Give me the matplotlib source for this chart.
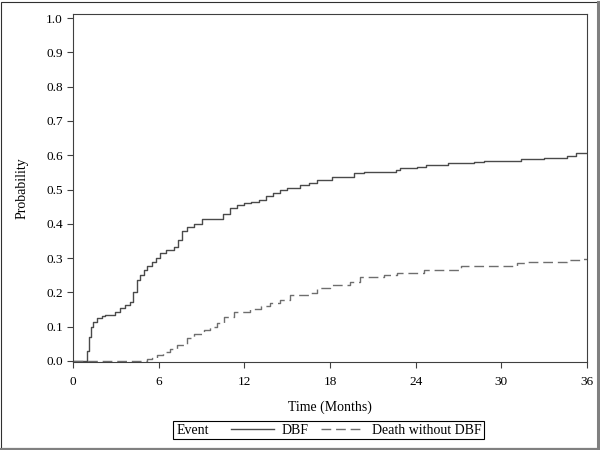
import matplotlib
matplotlib.use("Agg")
import matplotlib.pyplot as plt
from matplotlib.lines import Line2D
from matplotlib.offsetbox import HPacker
from matplotlib.patches import Rectangle

plt.rcParams["font.family"] = ["Liberation Serif", "DejaVu Serif"]

# cumulative incidence (step functions)
dbf_t = [0, 0.98, 1.1, 1.25, 1.42, 1.7, 2.0, 2.25, 2.95, 3.3, 3.65, 4.0, 4.2,
         4.47, 4.7, 4.94, 5.2, 5.52, 5.8, 6.1, 6.5, 7.04, 7.37, 7.6, 8.0, 8.5,
         9.0, 10.5, 11.0, 11.5, 12.0, 12.5, 13.0, 13.5, 14.0, 14.5, 15.0, 15.9,
         16.5, 17.1, 18.15, 19.67, 20.4, 22.6, 22.9, 24.1, 24.7, 26.3, 28.1,
         28.8, 31.4, 33.0, 34.6, 35.2, 36.0]
dbf_p = [0, 0.03, 0.07, 0.10, 0.115, 0.125, 0.132, 0.135, 0.144, 0.155, 0.163,
         0.173, 0.20, 0.236, 0.25, 0.265, 0.278, 0.29, 0.30, 0.314, 0.325,
         0.333, 0.353, 0.38, 0.39, 0.40, 0.415, 0.43, 0.445, 0.455, 0.46,
         0.465, 0.47, 0.48, 0.49, 0.50, 0.505, 0.513, 0.518, 0.528, 0.537,
         0.547, 0.552, 0.557, 0.562, 0.566, 0.571, 0.576, 0.581, 0.584, 0.588,
         0.593, 0.599, 0.606, 0.606]

death_t = [0, 5.2, 5.5, 5.87, 6.3, 6.8, 7.3, 7.98, 8.5, 9.15, 9.6, 10.08,
           10.55, 11.25, 12.42, 13.2, 13.8, 14.5, 15.2, 16.6, 17.1, 18.0, 19.4,
           20.1, 21.8, 22.7, 24.6, 27.2, 31.1, 31.8, 34.6, 35.5, 36.0]
death_p = [0, 0.005, 0.01, 0.017, 0.025, 0.035, 0.047, 0.066, 0.078, 0.09,
           0.10, 0.11, 0.129, 0.144, 0.152, 0.16, 0.168, 0.178, 0.192, 0.197,
           0.212, 0.222, 0.231, 0.246, 0.251, 0.256, 0.265, 0.277, 0.285, 0.29,
           0.294, 0.296, 0.296]

x_ticks = [0, 6, 12, 18, 24, 30, 36]
y_ticks = [0.0, 0.1, 0.2, 0.3, 0.4, 0.5, 0.6, 0.7, 0.8, 0.9, 1.0]

fig = plt.figure(figsize=(6, 4.5), dpi=100)
ax = fig.add_axes([0.1217, 0.1956, 0.8566, 0.7733])

ax.step(dbf_t, dbf_p, where="post", color="#4a4a4a", lw=1.0, label="DBF")
ax.step(death_t, death_p, where="post", color="#6e6e6e", lw=1.0,
        linestyle=(0, (7, 3.5)), label="Death without DBF")

ax.set_xlim(0, 36)
ax.set_ylim(-0.003, 1.012)
ax.set_xticks(x_ticks)
ax.set_yticks(y_ticks)
ax.set_yticklabels([f"{v:.1f}" for v in y_ticks])
ax.tick_params(labelsize=9.5, length=4.3, width=0.8, color="#404040")
ax.tick_params(axis="y", pad=3)
ax.tick_params(axis="x", pad=6)
for s in ax.spines.values():
    s.set_color("#404040")
    s.set_linewidth(0.8)

ax.set_xlabel("Time (Months)", fontsize=10, labelpad=9)
ax.set_ylabel("Probability", fontsize=10, labelpad=13)

leg = fig.legend(loc="center", bbox_to_anchor=(0.548, 0.0444), ncol=2,
                 title="Event", title_fontsize=10, fontsize=10,
                 frameon=True, fancybox=False, edgecolor="black",
                 framealpha=1, handlelength=3.1, handletextpad=0.58,
                 columnspacing=0.86, borderpad=0.2, borderaxespad=0)
leg.get_frame().set_linewidth(0.8)
# put the title to the left of the entries, as in the reference
leg._legend_box.__class__ = HPacker
leg._legend_box.sep = 16
leg._legend_box.align = "center"

# outer frame with a gray shadow on bottom and right
fig.patches.append(Rectangle((0.002, 0.004), 0.994, 0.992, transform=fig.transFigure,
                             fill=False, edgecolor="#303030", lw=0.8))
fig.lines.append(Line2D([0.002, 0.998], [0.002, 0.002], transform=fig.transFigure,
                        color="#808080", lw=2.2))
fig.lines.append(Line2D([0.997, 0.997], [0.002, 0.996], transform=fig.transFigure,
                        color="#808080", lw=2.2))

fig.savefig("out.png", dpi=100)
